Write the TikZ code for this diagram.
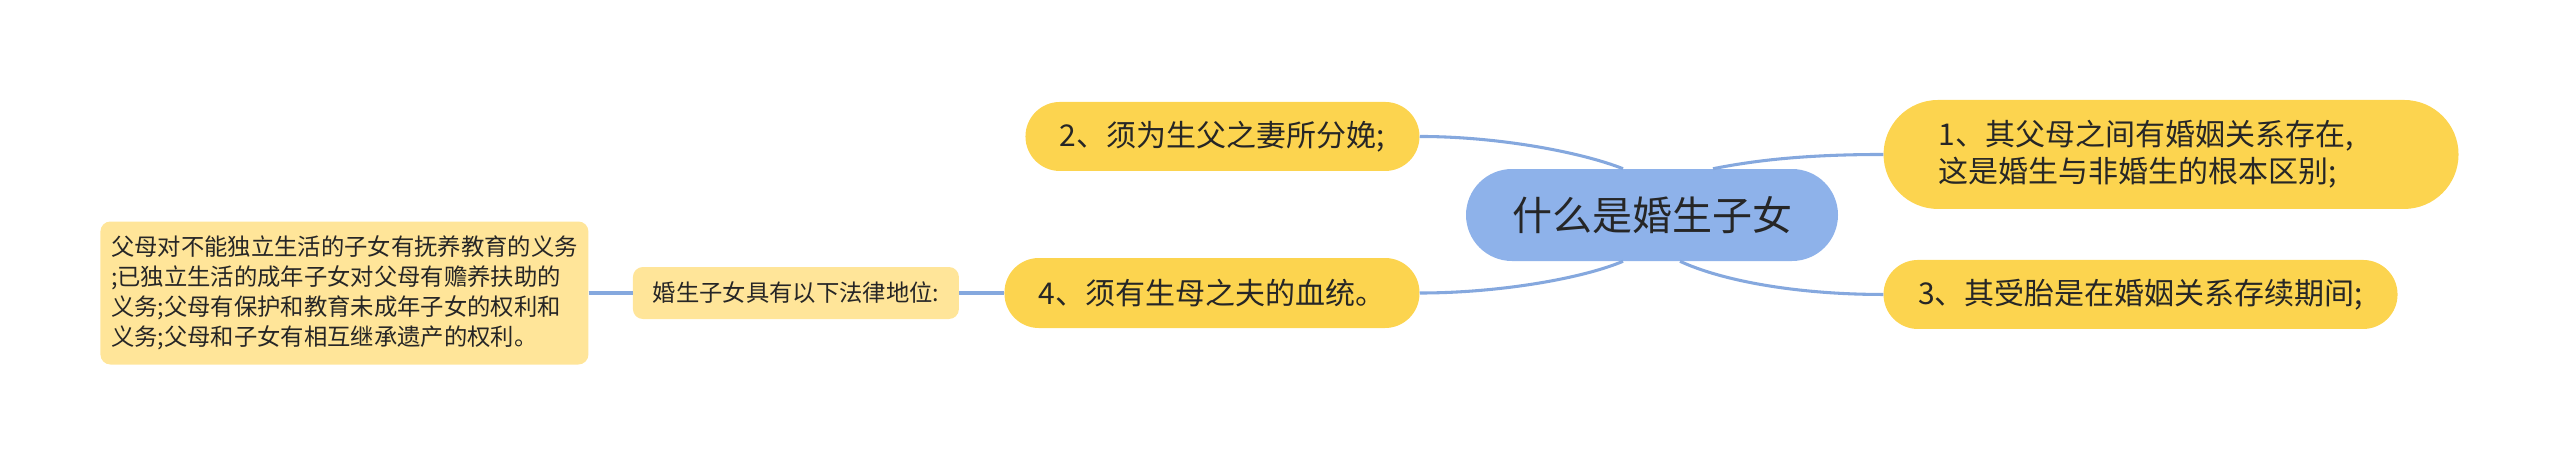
\documentclass[tikz,border=0pt]{standalone}
\usepackage{fontspec}
\setmainfont{Noto Sans CJK SC}
\usetikzlibrary{positioning}
\definecolor{rootblue}{RGB}{142,178,234}
\definecolor{topicyellow}{RGB}{252,212,79}
\definecolor{noteyellow}{RGB}{255,229,153}
\definecolor{linkblue}{RGB}{133,168,222}
\definecolor{textdark}{RGB}{38,38,38}

\begin{document}
\begin{tikzpicture}[
        every node/.style={text=textdark, inner sep=0pt},
        rootbox/.style={fill=rootblue, rounded corners=34.5pt, minimum width=279pt, minimum height=69pt, font=\fontsize{30pt}{36pt}\selectfont},
        topicbox/.style={fill=topicyellow, rounded corners=25.8pt, minimum height=51.75pt, font=\fontsize{22.5pt}{27.75pt}\selectfont},
        notebox/.style={fill=noteyellow, rounded corners=7.5pt, font=\fontsize{17.5pt}{22.5pt}\selectfont},
        link/.style={draw=linkblue, line width=2.3pt} % soft blue branches, no arrows
    ]
    \useasboundingbox (0,0) rectangle (1920pt,-348.75pt);

    % Nodes
    \node[rootbox] (root) at (1239pt,-161.25pt) {什么是婚生子女};

    \node[topicbox, minimum width=295.5pt, left=34.5pt of root, yshift=58.9pt] (father) {2、须为生父之妻所分娩;};
    \node[topicbox, minimum width=311.25pt, minimum height=52.5pt, left=34.5pt of root, yshift=-58.5pt] (blood) {4、须有生母之夫的血统。};
    \node[topicbox, rounded corners=40.9pt, minimum height=81.75pt, text width=348.75pt, inner xsep=41.25pt, align=left, right=33.75pt of root, yshift=45.4pt] (marriage) {1、其父母之间有婚姻关系存在,\\这是婚生与非婚生的根本区别;};
    \node[topicbox, minimum width=385.5pt, right=33.75pt of root, yshift=-59.6pt] (conceive) {3、其受胎是在婚姻关系存续期间;};

    \node[notebox, minimum width=244.5pt, minimum height=39pt, left=33.75pt of blood] (status) {婚生子女具有以下法律地位:};
    \node[notebox, minimum width=366pt, minimum height=107.25pt, align=left, left=33pt of status] (rights) {父母对不能独立生活的子女有抚养教育的义务\\;已独立生活的成年子女对父母有赡养扶助的\\义务;父母有保护和教育未成年子女的权利和\\义务;父母和子女有相互继承遗产的权利。};

    % Edges
    \draw[link] (father.east) .. controls +(60pt,0) and +(-30pt,12pt) .. ([xshift=-21.75pt]root.north);
    \draw[link] (blood.east) .. controls +(60pt,0) and +(-30pt,-12.75pt) .. ([xshift=-21.75pt]root.south);
    \draw[link] ([xshift=45.75pt]root.north) .. controls +(30pt,6pt) and +(-60pt,0) .. (marriage.west);
    \draw[link] ([xshift=21pt]root.south) .. controls +(30pt,-14pt) and +(-67.5pt,0) .. (conceive.west);

    \draw[link] (rights) -- (status);
    \draw[link] (status) -- (blood);

\end{tikzpicture}
\end{document}
